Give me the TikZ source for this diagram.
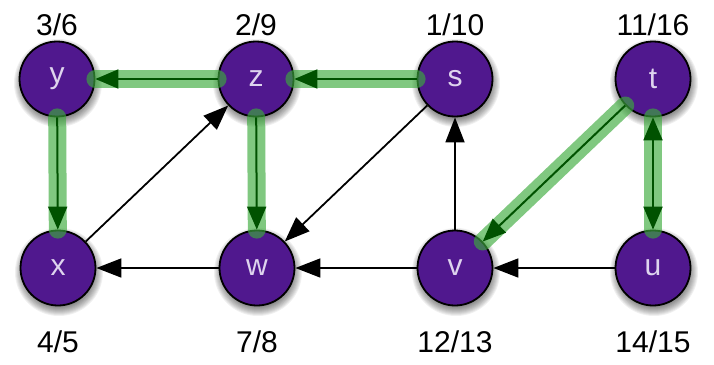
\documentclass[tikz,border=0pt]{standalone}
\usepackage{fontspec}
\setmainfont{Liberation Sans}
\usetikzlibrary{arrows.meta}
\definecolor{vpurple}{RGB}{80,24,142}
\definecolor{vtext}{RGB}{222,212,238}
\definecolor{hlgreen}{RGB}{60,170,60}
\definecolor{dkgreen}{RGB}{0,82,0}
\begin{document}
\begin{tikzpicture}[x=1pt,y=-1pt,
  vertex/.style={circle, draw=black, line width=1.8pt, fill=vpurple, minimum size=75pt, inner sep=0pt, text=vtext, font=\fontsize{30}{33}\selectfont},
  lab/.style={font=\fontsize{30}{33}\selectfont, inner sep=0pt},
  hl/.style={draw=hlgreen, opacity=0.65, line width=18pt, line cap=round},
  treeedge/.style={draw=dkgreen, line width=2pt, -{Triangle[length=23pt,width=19pt]}},
  treeboth/.style={draw=dkgreen, line width=2pt, {Triangle[length=23pt,width=19pt]}-{Triangle[length=23pt,width=19pt]}},
  edge/.style={draw=black, line width=1.8pt, -{Triangle[length=25pt,width=19pt]}}]
\useasboundingbox (0,0) rectangle (714,364);
\coordinate (cy) at (57,79);
\coordinate (cz) at (256,79);
\coordinate (cs) at (455,79);
\coordinate (ct) at (653,79);
\coordinate (cx) at (58,268);
\coordinate (cw) at (257,268);
\coordinate (cv) at (455,268);
\coordinate (cu) at (653,268);
% shadows
\foreach \n in {cy,cz,cs,ct,cx,cw,cv,cu}{
  \foreach \i in {1,...,10}{
    \fill[black, opacity=0.06] ([xshift=1pt,yshift=-4pt]\n) circle[radius=34pt+\i pt];
  }
}
% vertices
\node[vertex] (y) at (cy) {y};
\node[vertex] (z) at (cz) {z};
\node[vertex] (s) at (cs) {s};
\node[vertex] (t) at (ct) {t};
\node[vertex] (x) at (cx) {x};
\node[vertex] (w) at (cw) {w};
\node[vertex] (v) at (cv) {v};
\node[vertex] (u) at (cu) {u};
% labels
\node[lab] (ly) at (57,25) {3/6};
\node[lab] (lz) at (256,25) {2/9};
\node[lab] (ls) at (455,25) {1/10};
\node[lab] (lt) at (653,25) {11/16};
\node[lab] (lx) at (58,342) {4/5};
\node[lab] (lw) at (257,342) {7/8};
\node[lab] (lv) at (455,342) {12/13};
\node[lab] (lu) at (653,342) {14/15};
% highlights
\draw[hl] (z) -- (y);
\draw[hl] (s) -- (z);
\draw[hl] (y) -- (x);
\draw[hl] (z) -- (w);
\draw[hl] (t) -- (v);
\draw[hl] (t) -- (u);
% tree edges
\draw[treeedge] (z) -- (y);
\draw[treeedge] (s) -- (z);
\draw[treeedge] (y) -- (x);
\draw[treeedge] (z) -- (w);
\draw[treeedge] (t) -- (v);
\draw[treeboth] (t) -- (u);
% other edges
\draw[edge] (x) -- (z);
\draw[edge] (s) -- (w);
\draw[edge] (w) -- (x);
\draw[edge] (v) -- (w);
\draw[edge] (v) -- (s);
\draw[edge] (u) -- (v);
\end{tikzpicture}
\end{document}
